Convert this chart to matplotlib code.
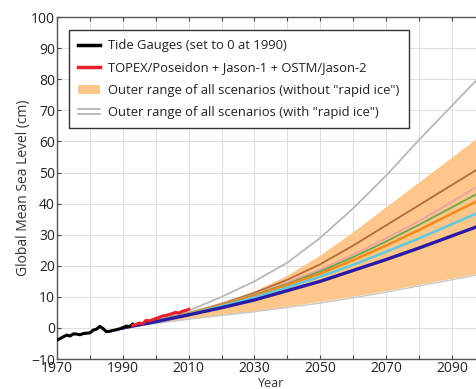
import matplotlib.pyplot as plt
from matplotlib.lines import Line2D
from matplotlib.patches import Patch
from matplotlib.legend_handler import HandlerBase

plt.rcParams['font.family'] = ['Open Sans', 'DejaVu Sans']

# observed data
tide_years = [1970, 1971, 1972, 1973, 1974, 1975, 1976, 1977, 1978, 1979, 1980, 1981,
              1982, 1983, 1984, 1985, 1986, 1987, 1988, 1989, 1990, 1991, 1992, 1993]
tide_level = [-3.9, -3.4, -2.8, -2.3, -2.6, -1.9, -2.0, -2.2, -1.8, -1.7, -1.6, -0.7,
              -0.4, 0.5, -0.2, -1.2, -1.1, -0.8, -0.6, -0.3, 0.0, 0.6, 0.4, 1.2]

sat_years = [1993, 1994, 1995, 1996, 1997, 1998, 1999, 2000, 2001, 2002, 2003,
             2004, 2005, 2006, 2007, 2008, 2009, 2010]
sat_level = [0.8, 1.1, 1.6, 1.3, 2.4, 2.3, 2.6, 3.0, 3.4, 3.8, 4.0, 4.3, 4.6,
             5.0, 4.8, 5.3, 5.6, 6.0]

# projections
proj_years = [1990, 2000, 2010, 2020, 2030, 2040, 2050, 2060, 2070, 2080, 2090, 2100]
band_low = [0.0, 1.5, 3.0, 4.3, 5.5, 7.0, 8.5, 10.2, 12.0, 14.0, 16.0, 18.0]
band_high = [0.0, 2.2, 5.0, 8.0, 12.0, 17.0, 23.5, 31.0, 39.0, 47.0, 55.0, 63.0]
rapid_low = [0.0, 1.4, 2.8, 4.0, 5.2, 6.6, 8.0, 9.7, 11.5, 13.5, 15.5, 17.5]
rapid_high = [0.0, 2.3, 5.5, 10.0, 15.0, 21.0, 29.0, 38.5, 49.0, 60.5, 71.5, 82.5]

scen_blue = [0.0, 2.0, 4.2, 6.5, 9.0, 12.0, 15.0, 18.5, 22.0, 25.7, 29.6, 33.5]
scen_cyan = [0.0, 2.0, 4.4, 7.0, 9.8, 13.0, 16.5, 20.3, 24.5, 28.8, 33.4, 38.0]
scen_orange = [0.0, 2.1, 4.6, 7.3, 10.3, 13.8, 17.5, 21.8, 26.5, 31.5, 36.8, 42.0]
scen_green = [0.0, 2.1, 4.7, 7.5, 10.6, 14.2, 18.2, 22.8, 27.8, 33.2, 38.8, 44.5]
scen_pink = [0.0, 2.1, 4.7, 7.6, 10.8, 14.6, 18.8, 23.6, 28.8, 34.4, 40.5, 47.0]
scen_brown = [0.0, 2.2, 4.8, 7.8, 11.3, 15.5, 20.5, 26.5, 33.0, 39.5, 46.0, 52.5]

labels = ['Tide Gauges (set to 0 at 1990)',
          'TOPEX/Poseidon + Jason-1 + OSTM/Jason-2',
          'Outer range of all scenarios (without "rapid ice")',
          'Outer range of all scenarios (with "rapid ice")']


# two thin gray lines for the "rapid ice" legend entry
class DoubleLine(HandlerBase):
    def create_artists(self, legend, orig, xd, yd, width, height, fontsize, trans):
        mid = (height - yd) / 2
        gap = 0.18 * fontsize
        return [Line2D([-xd, -xd + width], [mid + d, mid + d], color='#a8a8a8',
                       lw=1.1, transform=trans) for d in (-gap, gap)]


fig = plt.figure(figsize=(4.77, 3.89), dpi=100)
ax = fig.add_axes([0.1195, 0.0771, 0.897, 0.879])

ax.fill_between(proj_years, band_low, band_high, color='#fdc68a', lw=0, zorder=2)
ax.plot(proj_years, rapid_high, color='#b8b8b8', lw=1.3, zorder=3)
ax.plot(proj_years, rapid_low, color='#c8c8c8', lw=1.0, zorder=3)

ax.plot(proj_years, scen_brown, color='#b86a3a', lw=1.3, zorder=4)
ax.plot(proj_years, scen_pink, color='#f0a0a8', lw=1.3, zorder=4)
ax.plot(proj_years, scen_green, color='#6aa84f', lw=1.3, zorder=4)
ax.plot(proj_years, scen_orange, color='#f28a1a', lw=1.8, zorder=4)
ax.plot(proj_years, scen_cyan, color='#5ec8e0', lw=1.8, zorder=4)
ax.plot(proj_years, scen_blue, color='#2a1aa8', lw=2.4, zorder=5)

ax.plot(tide_years, tide_level, color='black', lw=2.2, zorder=6)
ax.plot(sat_years, sat_level, color='#e8202a', lw=2.2, zorder=6)

ax.set_xlim(1970, 2100)
ax.set_ylim(-10, 100)
ax.set_xticks(range(1970, 2101, 10))
ax.set_xticklabels([str(y) if (y - 1970) % 20 == 0 else '' for y in range(1970, 2101, 10)])
ax.set_yticks(range(-10, 101, 10))
ax.grid(True, color='#e0e0e0', lw=0.8)
ax.set_axisbelow(True)
ax.tick_params(direction='in', top=True, right=True, labelsize=10, length=3,
               color='#444444', labelcolor='#222222', pad=1.5)
for s in ax.spines.values():
    s.set_color('#555555')
    s.set_linewidth(1.0)

ax.set_xlabel('Year', fontsize=9, color='#333333', labelpad=1)
ax.set_ylabel('Global Mean Sea Level (cm)', fontsize=10, color='#333333', labelpad=0)

rapid_handle = Line2D([], [], color='#b8b8b8')
handles = [Line2D([], [], color='black', lw=2.5),
           Line2D([], [], color='#e8202a', lw=2.5),
           Patch(facecolor='#fdc68a', edgecolor='none'),
           rapid_handle]
leg = fig.legend(handles, labels, loc='upper left', bbox_to_anchor=(0.145, 0.923),
                 bbox_transform=fig.transFigure, borderaxespad=0, fontsize=9.4,
                 frameon=True, fancybox=False, edgecolor='#333333', framealpha=1,
                 handlelength=1.7, handletextpad=0.6, labelspacing=0.72, borderpad=0.7,
                 handler_map={rapid_handle: DoubleLine()})
leg.get_frame().set_linewidth(1.0)
for t in leg.get_texts():
    t.set_color('#222222')

fig.savefig('out.png', dpi=100)
